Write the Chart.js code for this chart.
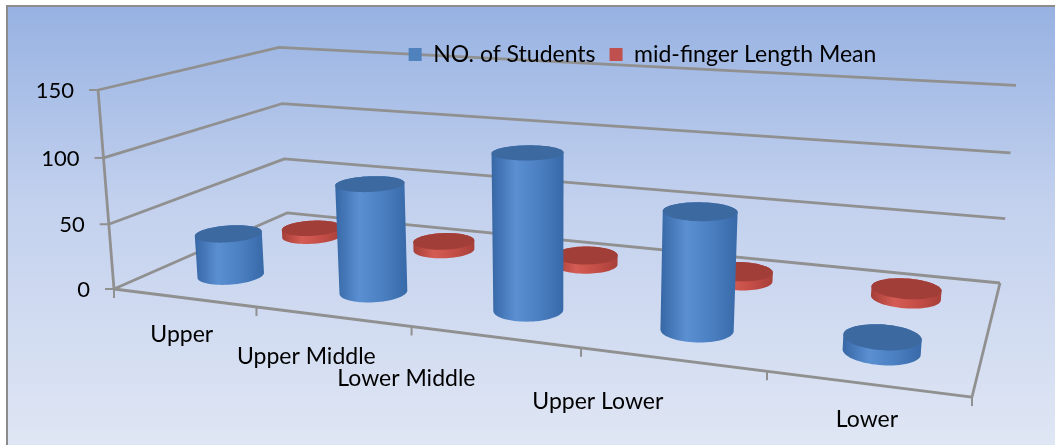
<!DOCTYPE html>
<html>
<head>
<meta charset="utf-8">
<script src="https://cdn.jsdelivr.net/npm/chart.js@4.4.1/dist/chart.umd.min.js"></script>
<style>
  html, body { margin: 0; padding: 0; background: #fff; }
  #chart { display: block; }
</style>
</head>
<body>
<canvas id="chart" width="1055" height="445"></canvas>
<script>
// Data
const categories = ["Upper", "Upper Middle", "Lower Middle", "Upper Lower", "Lower"];
const students = [33, 82, 114, 83, 10];
const fingerMean = [6.8, 7.1, 7.4, 7.0, 6.9];
const yTicks = [0, 50, 100, 150];

// 3D look (Excel style box, drawn by hand on top of the chart scales)
const FONT = "Lato, 'Open Sans', sans-serif";
const P = { x0: 114, xu: 660.1, xd: 233.7, xv: -19.4, y0: 289, yu: 27.2, yd: -31.0, yv: -202.15, a: -0.2036, b: 0.2114, c: -0.035 };
const RU = 0.04, RD = 0.105;
const labelShift = [[-2, 37], [-26, 40], [-88, 42], [-74, 42], [0, 36]];
const COLORS = [
  { side: ["#3767a5", "#5a8fd2", "#4a7fc1", "#3869a8"], top: "#3d69a1" },
  { side: ["#a63d37", "#d45c54", "#c44e47", "#a83f39"], top: "#a23e38" }
];

function proj(u, d, v) {
  const w = 1 + P.a * u + P.b * d + P.c * v;
  return [(P.x0 + P.xu * u + P.xd * d + P.xv * v) / w, (P.y0 + P.yu * u + P.yd * d + P.yv * v) / w];
}

function hull(pts) {
  pts = pts.slice().sort((p, q) => p[0] - q[0] || p[1] - q[1]);
  const cross = (o, a, b) => (a[0] - o[0]) * (b[1] - o[1]) - (a[1] - o[1]) * (b[0] - o[0]);
  const lo = [], hi = [];
  for (const p of pts) {
    while (lo.length >= 2 && cross(lo[lo.length - 2], lo[lo.length - 1], p) <= 0) lo.pop();
    lo.push(p);
  }
  for (let i = pts.length - 1; i >= 0; i--) {
    const p = pts[i];
    while (hi.length >= 2 && cross(hi[hi.length - 2], hi[hi.length - 1], p) <= 0) hi.pop();
    hi.push(p);
  }
  return lo.slice(0, -1).concat(hi.slice(0, -1));
}

function poly(ctx, pts) {
  ctx.beginPath();
  pts.forEach((p, i) => i ? ctx.lineTo(p[0], p[1]) : ctx.moveTo(p[0], p[1]));
  ctx.closePath();
}

function cylinder(ctx, u, d, v, col) {
  const N = 72, bot = [], top = [];
  for (let k = 0; k < N; k++) {
    const t = k / N * Math.PI * 2;
    const uu = u + RU * Math.cos(t), dd = d + RD * Math.sin(t);
    bot.push(proj(uu, dd, 0));
    top.push(proj(uu, dd, v));
  }
  const h = hull(bot.concat(top));
  const xs = h.map(p => p[0]);
  const g = ctx.createLinearGradient(Math.min(...xs), 0, Math.max(...xs), 0);
  col.side.forEach((c, i) => g.addColorStop(i / (col.side.length - 1), c));
  poly(ctx, h);
  ctx.fillStyle = g;
  ctx.fill();
  poly(ctx, top);
  ctx.fillStyle = col.top;
  ctx.fill();
}

function line(ctx, pts) {
  ctx.beginPath();
  pts.forEach((p, i) => i ? ctx.lineTo(p[0], p[1]) : ctx.moveTo(p[0], p[1]));
  ctx.stroke();
}

const scene3d = {
  id: "scene3d",
  beforeDraw(chart) {
    const ctx = chart.ctx, xs = chart.scales.x, ys = chart.scales.y;
    const W = chart.width, H = chart.height;
    ctx.save();

    // background + frame
    ctx.fillStyle = "#fff";
    ctx.fillRect(0, 0, W, H);
    const bg = ctx.createLinearGradient(0, 8, 0, H);
    bg.addColorStop(0, "#97b2e2");
    bg.addColorStop(0.45, "#c3d1ee");
    bg.addColorStop(1, "#dfe6f4");
    ctx.fillStyle = bg;
    ctx.fillRect(8, 7, W - 8, H - 7);
    ctx.strokeStyle = "#8c8c8c";
    ctx.lineWidth = 2;
    line(ctx, [[7, H], [7, 6], [W, 6]]);

    // walls and gridlines
    const vOf = val => (ys.bottom - ys.getPixelForValue(val)) / (ys.bottom - ys.top);
    ctx.strokeStyle = "#909090";
    ctx.lineWidth = 2.8;
    ctx.lineJoin = "round";
    ys.ticks.forEach(t => {
      const v = vOf(t.value);
      line(ctx, [proj(0, 0, v), proj(0, 1, v), proj(1, 1, v)]);
    });
    line(ctx, [proj(0, 0, 1), proj(0, 0, 0), proj(1, 0, 0), proj(1, 1, 0)]);

    // value axis ticks + labels
    ctx.lineWidth = 2;
    ctx.fillStyle = "#000";
    ctx.font = "22px " + FONT;
    ctx.textAlign = "right";
    ctx.textBaseline = "middle";
    ys.ticks.forEach(t => {
      const p = proj(0, 0, vOf(t.value));
      line(ctx, [[p[0] - 9, p[1]], p]);
      ctx.fillText(String(t.value), p[0] - 24, p[1] + 1);
    });

    // category ticks along the front edge
    const n = chart.data.labels.length;
    for (let k = 0; k <= n; k++) {
      const p = proj(k / n, 0, 0);
      line(ctx, [p, [p[0], p[1] + 9]]);
    }

    // columns: back row first
    const nd = chart.data.datasets.length;
    for (let di = nd - 1; di >= 0; di--) {
      const meta = chart.getDatasetMeta(di);
      const d = (di + 0.5) / nd;
      meta.data.forEach((bar, j) => {
        const u = (xs.getPixelForValue(j) - xs.left) / (xs.right - xs.left);
        const v = (bar.base - bar.y) / (ys.bottom - ys.top);
        cylinder(ctx, u, d, v, COLORS[di]);
      });
    }

    // category labels
    ctx.fillStyle = "#000";
    ctx.font = "23px " + FONT;
    ctx.textAlign = "center";
    chart.data.labels.forEach((lab, j) => {
      const u = (xs.getPixelForValue(j) - xs.left) / (xs.right - xs.left);
      const p = proj(u, 0, 0);
      ctx.fillText(lab, p[0] + labelShift[j][0], p[1] + labelShift[j][1]);
    });
    ctx.restore();
  },
  beforeDatasetsDraw() {
    return false;
  }
};

new Chart(document.getElementById("chart"), {
  type: "bar",
  data: {
    labels: categories,
    datasets: [
      { label: "NO. of Students", data: students, backgroundColor: "#4f81bd" },
      { label: "mid-finger Length Mean", data: fingerMean, backgroundColor: "#c0504d" }
    ]
  },
  options: {
    responsive: false,
    animation: false,
    layout: { padding: { top: 29, left: 230, right: 0 } },
    plugins: {
      legend: {
        position: "top",
        labels: {
          boxWidth: 13,
          boxHeight: 13,
          padding: 14,
          color: "#000",
          font: { family: FONT, size: 23 }
        }
      },
      tooltip: { enabled: false }
    },
    scales: {
      x: { display: false, offset: true },
      y: {
        display: false,
        min: 0,
        max: 150,
        afterBuildTicks: s => { s.ticks = yTicks.map(v => ({ value: v })); }
      }
    }
  },
  plugins: [scene3d]
});
</script>
</body>
</html>
